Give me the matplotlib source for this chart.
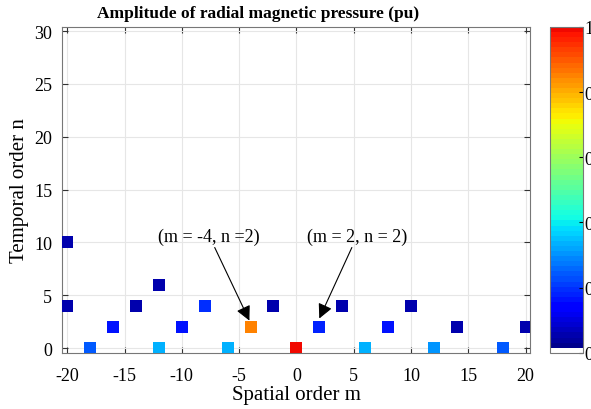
import numpy as np
import matplotlib
matplotlib.use('Agg')
import matplotlib.pyplot as plt
from matplotlib.colors import ListedColormap

# harmonic orders and normalized amplitudes
m_order = [0, -4, -6, 6, -12, 12, -18, 18, -16, -10, 2, 8, -8,
           -20, -20, -14, -12, -2, 4, 10, 14, 20]
n_order = [0, 2, 0, 0, 0, 0, 0, 0, 2, 2, 2, 2, 4,
           10, 4, 4, 6, 4, 4, 4, 2, 2]
amp = [1.0, 0.85, 0.34, 0.34, 0.34, 0.31, 0.24, 0.24, 0.17, 0.17, 0.18, 0.17, 0.19,
       0.05, 0.05, 0.05, 0.06, 0.05, 0.05, 0.05, 0.05, 0.05]

plt.rcParams['font.family'] = ['Liberation Serif', 'DejaVu Serif']
plt.rcParams['axes.unicode_minus'] = False

# jet up to bright red, lowest bin white
cols = plt.get_cmap('jet')(np.linspace(0, 0.9, 64))
cols[0] = [1, 1, 1, 1]
cmap = ListedColormap(cols)

fig = plt.figure(figsize=(5.91, 4.10), dpi=100)
ax = fig.add_axes([0.105, 0.137, 0.792, 0.795])
cax = fig.add_axes([0.931, 0.137, 0.056, 0.795])

ax.grid(True, color='#e6e6e6', linewidth=0.8)
ax.set_axisbelow(True)
sc = ax.scatter(m_order, n_order, c=amp, cmap=cmap, vmin=0, vmax=1,
                marker='s', s=75, linewidths=0, zorder=3)

ax.set_xlim(-20.45, 20.4)
ax.set_ylim(-0.45, 30.4)
ax.set_xticks(np.arange(-20, 21, 5))
ax.set_yticks(np.arange(0, 31, 5))
ax.tick_params(direction='in', top=True, right=True, labelsize=13, colors='#333333',
               labelcolor='black', length=4)
ax.tick_params(axis='x', pad=10)
ax.tick_params(axis='y', pad=7)
for s in ax.spines.values():
    s.set_color('#777777')

ax.set_xlabel('Spatial order m', fontsize=15, labelpad=1)
ax.set_ylabel('Temporal order n', fontsize=15, labelpad=4)
fig.text(0.437, 0.966, 'Amplitude of radial magnetic pressure (pu)', fontsize=12.5,
         fontweight='bold', ha='center', va='center')

arrow = dict(arrowstyle='-|>', color='black', lw=0.8, mutation_scale=22,
             shrinkA=0, shrinkB=0)
ax.annotate('(m = -4, n =2)', xy=(-4.1, 2.6), xytext=(-7.6, 10.6),
            ha='center', va='center', fontsize=13, arrowprops=arrow, zorder=4)
ax.annotate('(m = 2, n = 2)', xy=(2.0, 2.8), xytext=(5.3, 10.6),
            ha='center', va='center', fontsize=13, arrowprops=arrow, zorder=4)

cb = fig.colorbar(sc, cax=cax)
cb.set_ticks([0, 0.2, 0.4, 0.6, 0.8, 1])
cb.set_ticklabels(['0', '0.2', '0.4', '0.6', '0.8', '1'])
cb.ax.tick_params(labelsize=13, direction='in', length=3, pad=1)
cb.outline.set_edgecolor('#777777')

fig.savefig('out.png', dpi=100)
